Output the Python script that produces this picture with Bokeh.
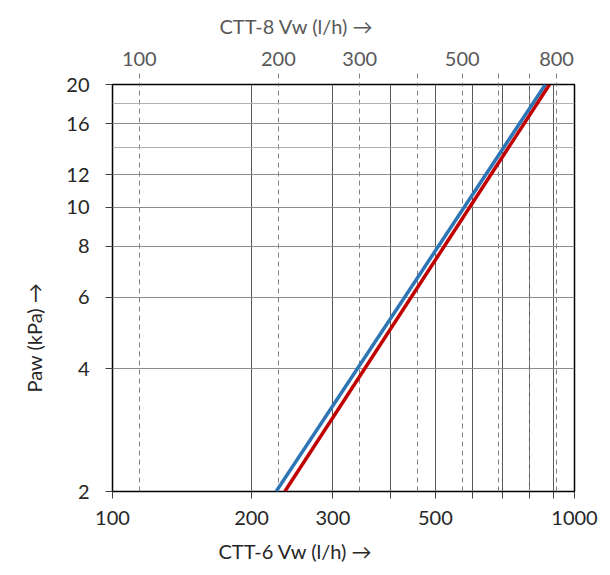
from bokeh.plotting import figure
from bokeh.models import (LogAxis, FixedTicker, Range1d, LogScale, Grid, Title)
from bokeh.embed import file_html
from bokeh.resources import INLINE

# ---- data ----
ctt6_ticks = [100, 200, 300, 400, 500, 600, 700, 800, 900, 1000]
ctt6_labels = ["100", "200", "300", "", "500", "", "", "", "", "1000"]
ctt8_ticks = [100, 200, 300, 400, 500, 600, 700, 800]
ctt8_labels = ["100", "200", "300", "", "500", "", "", "800"]
ctt8_factor = 1.143  # CTT-6 flow equivalent of CTT-8 flow
p_ticks = [2, 4, 6, 8, 10, 12, 16, 20]
p_labels = ["2", "4", "6", "8", "10", "12", "16", "20"]
p_minor = [14, 18]

blue_v = [226, 865]
blue_p = [2, 20]
red_v = [236, 883]
red_p = [2, 20]

FONT = "Lato"
DARK = "#262626"
GRAY = "#595959"

p = figure(x_axis_type="log", y_axis_type="log",
           x_range=Range1d(100, 1000), y_range=Range1d(2, 20),
           frame_width=462, frame_height=407,
           min_border_left=112, min_border_right=30,
           min_border_top=84, min_border_bottom=76,
           output_backend="svg", toolbar_location=None,
           background_fill_color="white", border_fill_color="white")
p.outline_line_color = "black"
p.outline_line_width = 1.5
p.grid.visible = False

p.extra_x_ranges = {"ctt8": Range1d(100 / ctt8_factor, 1000 / ctt8_factor)}
p.extra_x_scales = {"ctt8": LogScale()}

# bottom axis
xb = p.xaxis[0]
xb.ticker = FixedTicker(ticks=ctt6_ticks)
xb.major_label_overrides = {float(t): l for t, l in zip(ctt6_ticks, ctt6_labels)}
xb.axis_line_color = None
xb.major_tick_in = 0
xb.major_tick_out = 7
xb.major_tick_line_color = "#404040"
xb.minor_tick_line_color = None
xb.major_label_standoff = 12
xb.major_label_text_font = FONT
xb.major_label_text_font_size = "20px"
xb.major_label_text_color = DARK

# left axis
yl = p.yaxis[0]
yl.ticker = FixedTicker(ticks=p_ticks)
yl.major_label_overrides = {float(t): l for t, l in zip(p_ticks, p_labels)}
yl.axis_line_color = None
yl.major_tick_in = 0
yl.major_tick_out = 7
yl.major_tick_line_color = "#404040"
yl.minor_tick_line_color = None
yl.major_label_standoff = 16
yl.major_label_text_font = FONT
yl.major_label_text_font_size = "20px"
yl.major_label_text_color = DARK

# top axis (CTT-8)
xt = LogAxis(x_range_name="ctt8", ticker=FixedTicker(ticks=ctt8_ticks),
             major_label_overrides={float(t): l for t, l in zip(ctt8_ticks, ctt8_labels)},
             axis_line_color=None, major_tick_in=0, major_tick_out=11,
             major_tick_line_color="#7f7f7f", major_tick_line_dash="5 4",
             minor_tick_line_color=None,
             major_label_standoff=8, major_label_text_font=FONT,
             major_label_text_font_size="20px", major_label_text_color=GRAY)
p.add_layout(xt, "above")

# grids
p.add_layout(Grid(dimension=0, ticker=FixedTicker(ticks=ctt6_ticks),
                  grid_line_color="#595959", grid_line_width=1))
p.add_layout(Grid(dimension=0, x_range_name="ctt8", ticker=FixedTicker(ticks=ctt8_ticks),
                  grid_line_color="#808080", grid_line_width=1, grid_line_dash="5 4"))
p.add_layout(Grid(dimension=1, ticker=FixedTicker(ticks=p_ticks),
                  grid_line_color="#8c8c8c", grid_line_width=1))
p.add_layout(Grid(dimension=1, ticker=FixedTicker(ticks=p_minor),
                  grid_line_color="#b0b0b0", grid_line_width=1))

# curves
p.line(blue_v, blue_p, line_color="#2E75B6", line_width=3.5)
p.line(red_v, red_p, line_color="#C00000", line_width=3.5)

# axis titles (placed off-centre like the reference)
p.add_layout(Title(text="CTT-8 Vw (l/h) →", align="left", offset=107, standoff=22,
                   text_font=FONT, text_font_size="20px", text_font_style="normal",
                   text_color=GRAY), "above")
p.add_layout(Title(text="CTT-6 Vw (l/h) →", align="left", offset=106, standoff=18,
                   text_font=FONT, text_font_size="20px", text_font_style="normal",
                   text_color=DARK), "below")
p.add_layout(Title(text="Paw (kPa) →", align="left", offset=99, standoff=36,
                   text_font=FONT, text_font_size="20px", text_font_style="normal",
                   text_color=DARK), "left")

open("out.html", "w").write(file_html(p, INLINE))
